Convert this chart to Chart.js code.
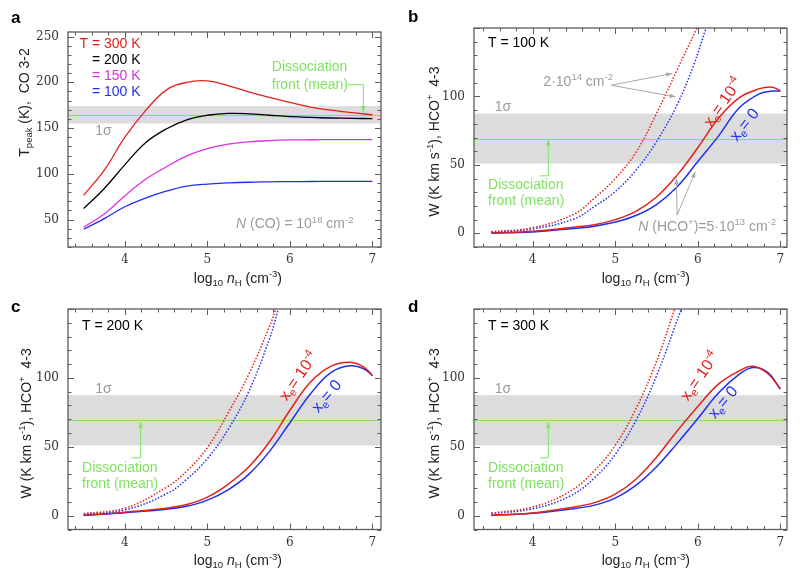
<!DOCTYPE html>
<html>
<head>
<meta charset="utf-8">
<script src="https://cdn.jsdelivr.net/npm/chart.js@4.4.1/dist/chart.umd.min.js"></script>
<style>
  body { margin: 0; background: #fff; }
  #wrap { position: relative; width: 800px; height: 584px; }
  #wrap canvas { position: absolute; }
</style>
</head>
<body>
<div id="wrap">
  <canvas id="pa" width="400" height="292" style="left:0;top:0"></canvas>
  <canvas id="pb" width="400" height="292" style="left:400px;top:0"></canvas>
  <canvas id="pc" width="400" height="292" style="left:0;top:292px"></canvas>
  <canvas id="pd" width="400" height="292" style="left:400px;top:292px"></canvas>
</div>
<script>
// ---- data (log10 nH on x) ----
// panel a: CO 3-2 peak temperature
const nA = [3.5, 3.75, 4.0, 4.25, 4.5, 4.75, 5.0, 5.25, 5.5, 5.75, 6.0, 6.25, 6.5, 6.75, 7.0];
const t300 = [76.5, 104, 140, 169, 191.5, 200, 201.5, 196.5, 189.5, 183.5, 178, 173, 169.5, 166.8, 164.6];
const t200 = [62, 84, 110, 134, 149, 159, 164, 166, 165.6, 164, 162.5, 161.6, 161, 160.6, 160.3];
const t150 = [41.6, 56, 76, 94, 107.5, 119.5, 127.5, 132.5, 135, 136.3, 137, 137.2, 137.3, 137.3, 137.3];
const t100 = [39.4, 51, 64, 73.5, 81, 86.5, 88.8, 90, 90.8, 91.2, 91.5, 91.6, 91.7, 91.8, 91.8];

// panel b: T = 100 K
const nB = [3.5, 4.0, 4.5, 4.75, 5.0, 5.25, 5.5, 5.75, 6.0, 6.25, 6.5, 6.75, 6.9, 7.0];
const bRed = [0.3, 1.5, 4.5, 6.3, 10, 16, 26.5, 42.5, 62.5, 84, 99, 105.7, 106.8, 104.2];
const bBlue = [0.2, 1.0, 3.6, 5.2, 8.2, 13, 21, 34, 52.5, 71, 91.5, 102, 103.9, 103.8];
const nBdR = [3.5, 4.0, 4.5, 4.75, 5.0, 5.25, 5.5, 5.75, 5.99];
const bRedD = [1.2, 4.1, 14, 25.8, 40, 59, 87.5, 119.5, 150];
const nBdB = [3.5, 4.0, 4.5, 4.75, 5.0, 5.25, 5.5, 5.75, 5.95, 6.1];
const bBlueD = [0.8, 3.2, 10.5, 19.7, 30.5, 46, 67, 94, 123, 150];

// panel c: T = 200 K
const nC = [3.5, 4.0, 4.5, 4.75, 5.0, 5.25, 5.5, 5.75, 6.0, 6.25, 6.5, 6.73, 6.9, 7.0];
const cRed = [0.3, 2.6, 5.5, 8.1, 13.5, 22.8, 35.3, 53.5, 76.5, 97, 108.5, 111.3, 107.7, 101.7];
const cBlue = [0.2, 2.2, 4.7, 6.9, 11.3, 18.8, 30, 46.5, 67.5, 88.5, 104, 108.8, 106.5, 101.7];
const nCdR = [3.5, 4.0, 4.5, 4.75, 5.0, 5.25, 5.5, 5.75, 5.83];
const cRedD = [1.5, 5.5, 20.5, 32.5, 49.5, 74.5, 102.5, 137, 150];
const nCdB = [3.5, 4.0, 4.5, 4.75, 5.0, 5.25, 5.5, 5.75, 5.86];
const cBlueD = [1.2, 4.2, 15.8, 26.5, 41.5, 62.5, 90, 128, 150];

// panel d: T = 300 K
const nD = [3.5, 4.0, 4.45, 4.75, 5.0, 5.25, 5.5, 5.75, 6.0, 6.25, 6.5, 6.67, 6.85, 7.0];
const dRed = [0.3, 2, 5.8, 9.5, 15.6, 26.5, 42.5, 61.5, 79.3, 95.5, 105, 108.4, 103, 92];
const dBlue = [0.2, 1.8, 4.8, 7.7, 12.8, 22, 35.5, 52.5, 70.5, 89, 102.5, 107.5, 103.8, 92];
const nDdR = [3.5, 4.0, 4.45, 4.75, 5.0, 5.25, 5.5, 5.72];
const dRedD = [1.9, 6.3, 17.6, 32.8, 51, 77.5, 112, 150];
const nDdB = [3.5, 4.0, 4.45, 4.75, 5.0, 5.25, 5.5, 5.8];
const dBlueD = [1.5, 5, 14.2, 27.5, 44.5, 69, 101.5, 150];

// observed band (1 sigma) and mean
const bandCO = [155, 174], meanCO = 164.6;
const bandW = [51, 87.5], meanW = 69.2;

const xTicks = [4, 5, 6, 7];
const yTicksA = [50, 100, 150, 200, 250];
const yTicksW = [0, 50, 100];

// ---- styling ----
const SANS = '"Liberation Sans", Arial, Helvetica, sans-serif';
const SERIF = '"DejaVu Serif", serif';
const RED = '#e3211c', BLUE = '#1f2ff2', MAG = '#e030e6', GREEN = '#7fe35f', GRAY = '#9b9b9b';

const P = (t, s, i) => ({ t, s, i });
const xTitle = [P('log'), P('10', 'sub'), P(' '), P('n', 0, 1), P('H', 'sub'), P(' (cm'), P('-3', 'sup'), P(')')];
const yTitleA = [P('T'), P('peak', 'sub'), P(' (K),  CO 3-2')];
const yTitleW = [P('W (K km s'), P('-1', 'sup'), P('), HCO'), P('+', 'sup'), P('  4-3')];
const xeRed = [P('x'), P('e', 'sub'), P('= 10'), P('-4', 'sup')];
const xeBlue = [P('x'), P('e', 'sub'), P('= 0')];

function fontFor(p, size) {
  const sz = (p.s === 'sub' || p.s === 'sup') ? size * 0.68 : size;
  return (p.i ? 'italic ' : '') + sz + 'px ' + SANS;
}

function rich(ctx, parts, x, y, size, color, align) {
  let w = 0;
  parts.forEach(p => { ctx.font = fontFor(p, size); w += ctx.measureText(p.t).width; });
  let cx = align === 'center' ? x - w / 2 : align === 'right' ? x - w : x;
  ctx.fillStyle = color;
  ctx.textBaseline = 'middle';
  ctx.textAlign = 'left';
  parts.forEach(p => {
    ctx.font = fontFor(p, size);
    const dy = p.s === 'sub' ? size * 0.3 : p.s === 'sup' ? -size * 0.33 : 0;
    ctx.fillText(p.t, cx, y + dy);
    cx += ctx.measureText(p.t).width;
  });
}

function arrowHead(ctx, x0, y0, x1, y1) {
  const ang = Math.atan2(y1 - y0, x1 - x0), h = 6, w = 2.2;
  ctx.beginPath();
  ctx.moveTo(x1, y1);
  ctx.lineTo(x1 - h * Math.cos(ang) + w * Math.sin(ang), y1 - h * Math.sin(ang) - w * Math.cos(ang));
  ctx.lineTo(x1 - h * Math.cos(ang) - w * Math.sin(ang), y1 - h * Math.sin(ang) + w * Math.cos(ang));
  ctx.closePath();
  ctx.fill();
}

// band, frame, inward ticks, titles and notes
function makeDeco(c) {
  return {
    id: 'deco',
    beforeDatasetsDraw(chart) {
      const { ctx, chartArea: a, scales: { y } } = chart;
      ctx.save();
      ctx.fillStyle = '#dcdcdc';
      const y1 = y.getPixelForValue(c.band[1]), y0 = y.getPixelForValue(c.band[0]);
      ctx.fillRect(a.left, y1, a.right - a.left, y0 - y1);
      ctx.strokeStyle = GREEN;
      ctx.lineWidth = 1;
      const ym = Math.round(y.getPixelForValue(c.mean)) + 0.5;
      ctx.beginPath(); ctx.moveTo(a.left, ym); ctx.lineTo(a.right, ym); ctx.stroke();
      ctx.restore();
    },
    afterDraw(chart) {
      const { ctx, chartArea: a, scales: { x, y } } = chart;
      const X = v => x.getPixelForValue(v), Y = v => y.getPixelForValue(v);
      ctx.save();
      ctx.strokeStyle = '#5c5c5c';
      ctx.lineWidth = 1;
      ctx.beginPath();
      for (let k = 17; k <= 35; k++) {
        const px = Math.round(X(k / 5)) + 0.5, len = k % 5 ? 3.5 : 6;
        if (px < a.left || px > a.right) continue;
        ctx.moveTo(px, a.bottom); ctx.lineTo(px, a.bottom - len);
        ctx.moveTo(px, a.top); ctx.lineTo(px, a.top + len);
      }
      for (let v = Math.ceil(y.min / 10) * 10; v <= y.max; v += 10) {
        const py = Math.round(Y(v)) + 0.5, len = v % 50 ? 3.5 : 6;
        ctx.moveTo(a.left, py); ctx.lineTo(a.left + len, py);
        ctx.moveTo(a.right, py); ctx.lineTo(a.right - len, py);
      }
      ctx.stroke();
      ctx.lineWidth = 1.3;
      ctx.strokeRect(a.left, a.top, a.right - a.left, a.bottom - a.top);

      // axis titles
      rich(ctx, xTitle, X(5.37), a.bottom + 32, 14, '#222', 'center');
      ctx.save();
      ctx.translate(a.left - c.yOff, Y(c.yMid));
      ctx.rotate(-Math.PI / 2);
      rich(ctx, c.yTitle, 0, 0, 14, '#222', 'center');
      ctx.restore();

      // panel letter
      ctx.font = 'bold 17px ' + SANS;
      ctx.fillStyle = '#000';
      ctx.textAlign = 'left';
      ctx.textBaseline = 'middle';
      ctx.fillText(c.letter, c.lx, c.ly);

      // notes
      c.texts.forEach(t => {
        ctx.save();
        ctx.translate(X(t.x), Y(t.y));
        if (t.rot) ctx.rotate(t.rot * Math.PI / 180);
        rich(ctx, t.parts, 0, 0, t.size || 14, t.color, t.align || 'left');
        ctx.restore();
      });
      c.paths.forEach(p => {
        const pts = p.pts.map(q => [X(q[0]), Y(q[1])]);
        ctx.strokeStyle = p.color;
        ctx.fillStyle = p.color;
        ctx.lineWidth = 1;
        ctx.beginPath();
        pts.forEach((q, i) => i ? ctx.lineTo(q[0], q[1]) : ctx.moveTo(q[0], q[1]));
        ctx.stroke();
        const n = pts.length;
        arrowHead(ctx, pts[n - 2][0], pts[n - 2][1], pts[n - 1][0], pts[n - 1][1]);
      });
      ctx.restore();
    }
  };
}

function pts(xs, ys) {
  return xs.map((v, i) => ({ x: v, y: ys[i] }));
}

function line(xs, ys, color, dotted, width) {
  return {
    data: pts(xs, ys),
    borderColor: color,
    borderWidth: width || 1.5,
    borderDash: dotted ? [1.5, 1.7] : [],
    pointRadius: 0,
    tension: 0.4,
    fill: false
  };
}

function makeChart(id, datasets, s) {
  new Chart(document.getElementById(id), {
    type: 'line',
    data: { datasets },
    options: {
      responsive: false,
      animation: false,
      events: [],
      layout: { padding: { left: 0, top: s.top, right: s.right, bottom: 0 } },
      plugins: { legend: { display: false }, tooltip: { enabled: false } },
      scales: {
        x: {
          type: 'linear', min: s.xmin, max: s.xmax,
          grid: { display: false, drawTicks: false }, border: { display: false },
          afterBuildTicks: sc => { sc.ticks = xTicks.map(v => ({ value: v })); },
          afterFit: sc => { sc.height = s.xh; },
          ticks: { padding: 6, color: '#333', font: { family: SERIF, size: 12 } }
        },
        y: {
          min: s.ymin, max: s.ymax,
          grid: { display: false, drawTicks: false }, border: { display: false },
          afterBuildTicks: sc => { sc.ticks = s.yTicks.map(v => ({ value: v })); },
          afterFit: sc => { sc.width = s.yw; },
          ticks: { padding: 9, color: '#333', font: { family: SERIF, size: 12 } }
        }
      }
    },
    plugins: [makeDeco(s.deco)]
  });
}

const nco = [P('N', 0, 1), P(' (CO) = 10'), P('18', 'sup'), P(' cm'), P('-2', 'sup')];
const n14 = [P('2·10'), P('14', 'sup'), P(' cm'), P('-2', 'sup')];
const nhco = [P('N', 0, 1), P(' (HCO'), P('+', 'sup'), P(')=5·10'), P('13', 'sup'), P(' cm'), P('-2', 'sup')];

function diss(x, y1, y2) {
  return [
    { x, y: y1, parts: [P('Dissociation')], color: GREEN },
    { x, y: y2, parts: [P('front (mean)')], color: GREEN }
  ];
}

// ---- panel a ----
makeChart('pa', [
  line(nA, t300, RED, false, 1.3),
  line(nA, t200, '#000', false, 1.3),
  line(nA, t150, MAG, false, 1.3),
  line(nA, t100, BLUE, false, 1.3)
], {
  top: 32, right: 19, xh: 45, yw: 68, xmin: 3.31, xmax: 7.104, ymin: 20, ymax: 255, yTicks: yTicksA,
  deco: {
    band: bandCO, mean: meanCO, yTitle: yTitleA, yOff: 43, yMid: 178, letter: 'a', lx: 11, ly: 18,
    texts: [
      { x: 4.19, y: 242, parts: [P('T = 300 K')], color: RED, align: 'right' },
      { x: 4.19, y: 224.7, parts: [P('= 200 K')], color: '#000', align: 'right' },
      { x: 4.19, y: 206.4, parts: [P('= 150 K')], color: MAG, align: 'right' },
      { x: 4.19, y: 189, parts: [P('= 100 K')], color: BLUE, align: 'right' },
      { x: 3.64, y: 147, parts: [P('1σ')], color: GRAY },
      { x: 6.77, y: 44.5, parts: nco, color: GRAY, align: 'right' }
    ].concat(diss(5.78, 216.3, 197.4)),
    paths: [{ pts: [[6.70, 197.4], [6.89, 197.4], [6.89, 167.5]], color: GREEN }]
  }
});

// ---- panel b ----
makeChart('pb', [
  line(nBdR, bRedD, RED, true),
  line(nBdB, bBlueD, BLUE, true),
  line(nB, bRed, RED),
  line(nB, bBlue, BLUE)
], {
  top: 28, right: 13, xh: 45, yw: 74, xmin: 3.29, xmax: 7.08, ymin: -10, ymax: 150, yTicks: yTicksW,
  deco: {
    band: bandW, mean: meanW, yTitle: yTitleW, yOff: 39, yMid: 67, letter: 'b', lx: 8, ly: 17,
    texts: [
      { x: 3.46, y: 138.9, parts: [P('T = 100 K')], color: '#000' },
      { x: 3.54, y: 92.2, parts: [P('1σ')], color: GRAY },
      { x: 4.13, y: 110.4, parts: n14, color: GRAY },
      { x: 5.28, y: 4.8, parts: nhco, color: GRAY },
      { x: 6.31, y: 95.5, parts: xeRed, color: RED, align: 'center', rot: -55, size: 16 },
      { x: 6.57, y: 79, parts: xeBlue, color: BLUE, align: 'center', rot: -52, size: 16 }
    ].concat(diss(3.46, 35.3, 23.8)),
    paths: [
      { pts: [[4.09, 42], [4.19, 42], [4.19, 68.5]], color: GREEN },
      { pts: [[4.95, 108.2], [5.69, 116.8]], color: '#a8a8a8' },
      { pts: [[4.95, 108.2], [5.73, 99.7]], color: '#a8a8a8' },
      { pts: [[5.75, 13.4], [5.74, 40.1]], color: '#a8a8a8' },
      { pts: [[5.75, 13.4], [5.97, 45]], color: '#a8a8a8' }
    ]
  }
});

// ---- panel c ----
makeChart('pc', [
  line(nCdR, cRedD, RED, true),
  line(nCdB, cBlueD, BLUE, true),
  line(nC, cRed, RED),
  line(nC, cBlue, BLUE)
], {
  top: 17, right: 19, xh: 54.5, yw: 68, xmin: 3.31, xmax: 7.104, ymin: -10, ymax: 150, yTicks: yTicksW,
  deco: {
    band: bandW, mean: meanW, yTitle: yTitleW, yOff: 41, yMid: 67, letter: 'c', lx: 11, ly: 15,
    texts: [
      { x: 3.48, y: 137.9, parts: [P('T = 200 K')], color: '#000' },
      { x: 3.64, y: 91.5, parts: [P('1σ')], color: GRAY },
      { x: 6.11, y: 101, parts: xeRed, color: RED, align: 'center', rot: -55, size: 16 },
      { x: 6.45, y: 86.5, parts: xeBlue, color: BLUE, align: 'center', rot: -50, size: 16 }
    ].concat(diss(3.48, 34.8, 23.2)),
    paths: [{ pts: [[4.08, 42], [4.19, 42], [4.19, 68]], color: GREEN }]
  }
});

// ---- panel d ----
makeChart('pd', [
  line(nDdR, dRedD, RED, true),
  line(nDdB, dBlueD, BLUE, true),
  line(nD, dRed, RED),
  line(nD, dBlue, BLUE)
], {
  top: 17, right: 13, xh: 54.5, yw: 74, xmin: 3.29, xmax: 7.08, ymin: -10, ymax: 150, yTicks: yTicksW,
  deco: {
    band: bandW, mean: meanW, yTitle: yTitleW, yOff: 39, yMid: 67, letter: 'd', lx: 8, ly: 15,
    texts: [
      { x: 3.46, y: 137.9, parts: [P('T = 300 K')], color: '#000' },
      { x: 3.54, y: 91.5, parts: [P('1σ')], color: GRAY },
      { x: 6.03, y: 101, parts: xeRed, color: RED, align: 'center', rot: -55, size: 16 },
      { x: 6.31, y: 82, parts: xeBlue, color: BLUE, align: 'center', rot: -50, size: 16 }
    ].concat(diss(3.46, 34.8, 23.2)),
    paths: [{ pts: [[4.09, 42], [4.19, 42], [4.19, 68]], color: GREEN }]
  }
});
</script>
</body>
</html>
